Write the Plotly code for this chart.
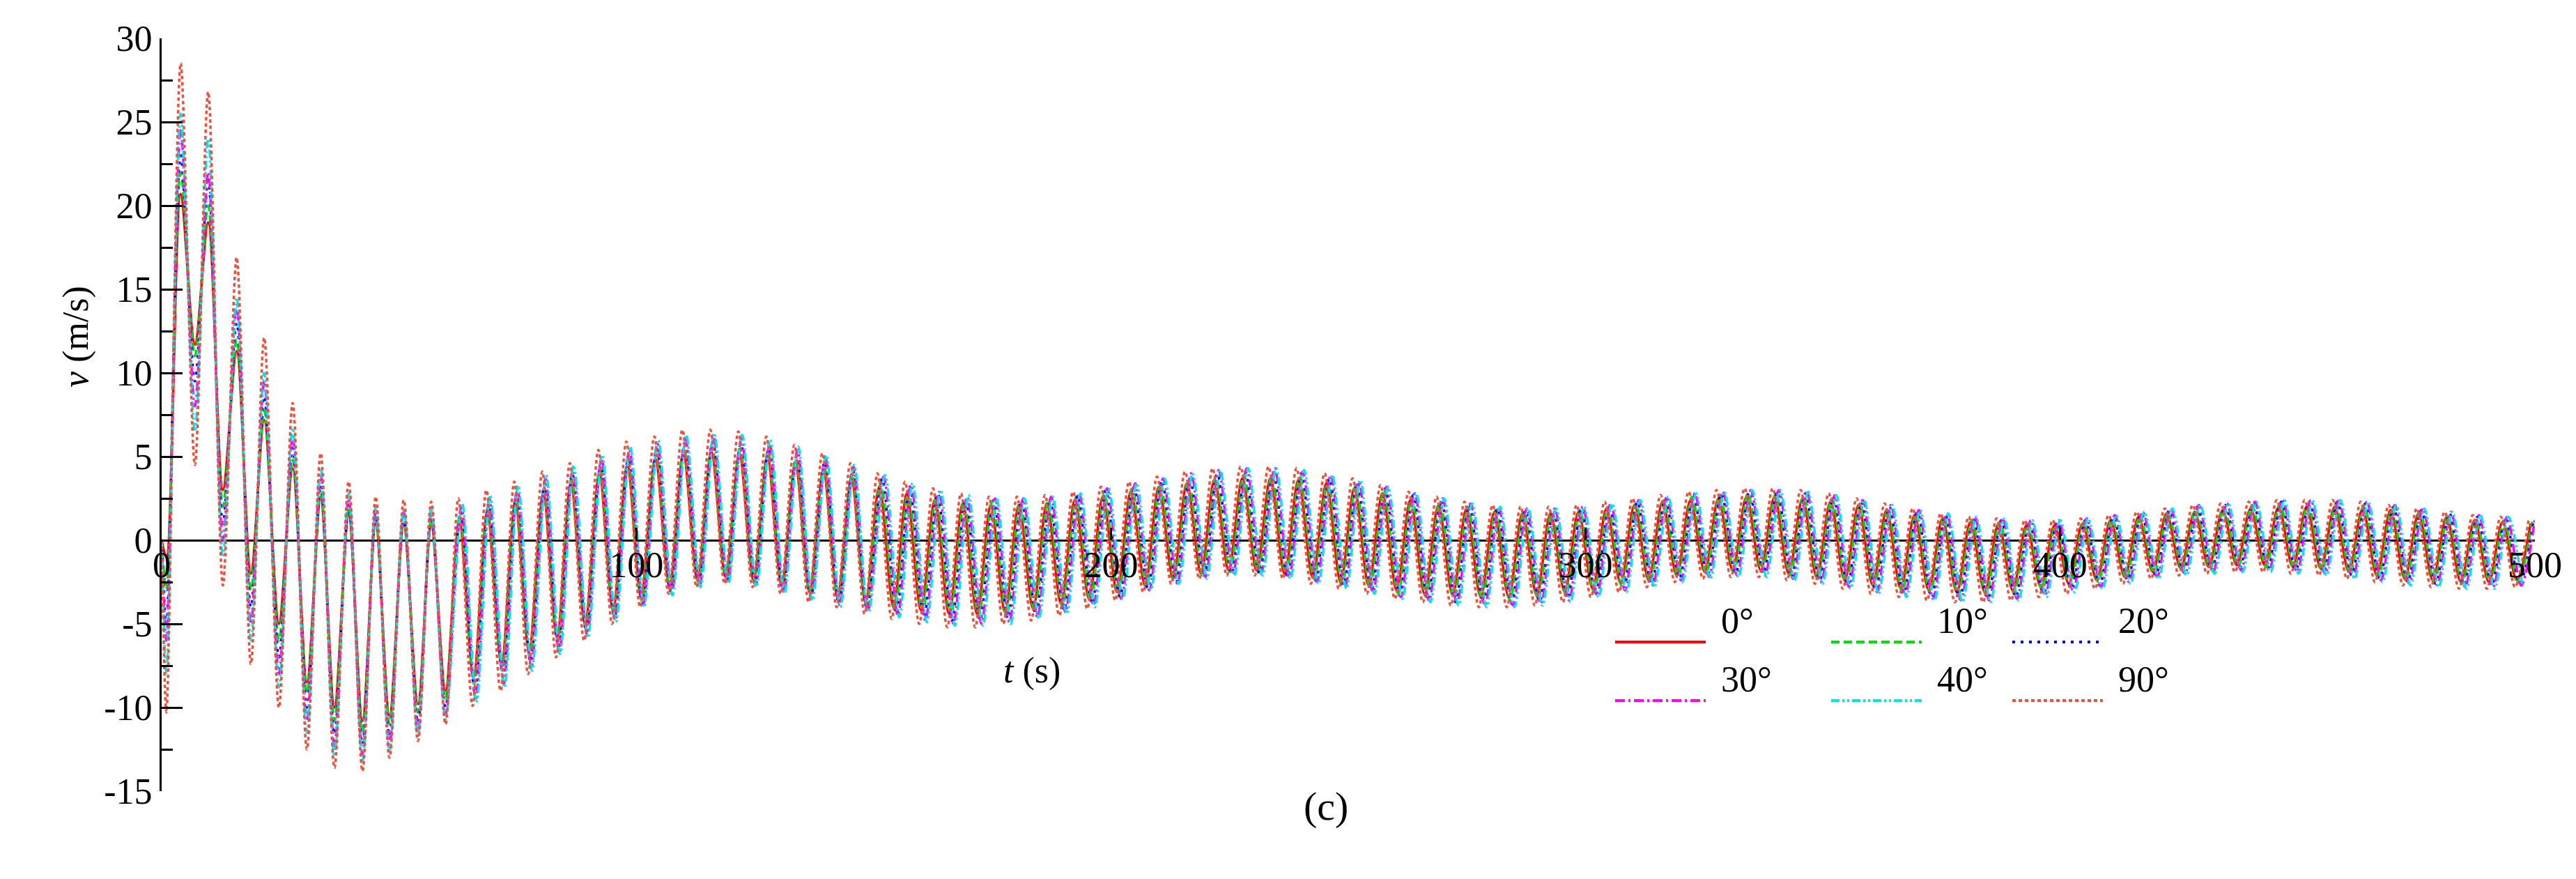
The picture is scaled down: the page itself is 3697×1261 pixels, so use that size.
import plotly.graph_objects as go

# ---------------- data ----------------
SERIES = ["0°", "10°", "20°", "30°", "40°", "90°"]

PEAK_T = [4.0, 9.8, 15.8, 21.6, 27.6, 33.5, 39.4, 45.1, 51.0, 56.8, 62.7, 68.6, 74.5, 80.4, 86.2,
          92.2, 98.1, 104.0, 109.9, 115.8, 121.7, 127.6, 133.5, 139.4, 145.3, 151.2, 157.0, 162.9,
          168.8, 174.7, 180.6, 186.5, 192.4, 198.3, 204.2, 210.1, 216.0, 221.8, 227.7, 233.6, 239.5,
          245.4, 251.3, 257.2, 263.1, 269.0, 274.9, 280.8, 286.7, 292.6, 298.5, 304.4, 310.3, 316.2,
          322.1, 328.0, 333.9, 339.8, 345.7, 351.6, 357.5, 363.4, 369.3, 375.2, 381.1, 387.0, 392.9,
          398.8, 404.7, 410.6, 416.5, 422.4, 428.3, 434.2, 440.1, 446.0, 451.9, 457.8, 463.7, 469.6,
          475.5, 481.4, 487.3, 493.2, 499.1]
TROUGH_T = [7.0, 12.9, 18.8, 24.7, 30.6, 36.4, 42.3, 48.0, 54.0, 59.8, 65.7, 71.6, 77.4, 83.3, 89.2,
            95.1, 101.0, 107.0, 112.9, 118.8, 124.7, 130.6, 136.5, 142.4, 148.3, 154.2, 160.0, 165.9,
            171.8, 177.7, 183.6, 189.5, 195.4, 201.3, 207.2, 213.1, 219.0, 224.8, 230.7, 236.6, 242.5,
            248.4, 254.3, 260.2, 266.1, 272.0, 277.9, 283.8, 289.7, 295.6, 301.5, 307.4, 313.3, 319.2,
            325.1, 331.0, 336.9, 342.8, 348.7, 354.6, 360.5, 366.4, 372.3, 378.2, 384.1, 390.0, 395.9,
            401.8, 407.7, 413.6, 419.5, 425.4, 431.3, 437.2, 443.1, 449.0, 454.9, 460.8, 466.7, 472.6,
            478.5, 484.4, 490.3, 496.2]

START_DIP = [-1.0, -3.0, -5.0, -6.0, -8.0, -10.3]
# phase lag of each series, in seconds, before t = 60 s and after t = 150 s
LAG_EARLY = [0.0, 0.0, 0.0, 0.0, 0.0, 0.0]
LAG_MID = [0.0, 0.15, 0.3, 0.45, 0.6, -0.2]
LAG_LATE = [0.0, 0.3, 0.6, 0.9, 1.2, -0.4]

PEAKS = {
    "0°": [20.7, 19.0, 11.3, 7.2, 4.3, 2.5, 1.5, 1.0, 0.9, 0.9, 1.2, 1.7, 2.3, 2.8, 3.4, 4.0, 4.5, 4.9, 5.2, 5.3, 5.2, 5.0, 4.6, 4.2, 3.7, 3.2, 2.8, 2.4, 2.2, 2.1, 2.1, 2.2, 2.4, 2.6, 2.9, 3.2, 3.4, 3.6, 3.7, 3.7, 3.6, 3.4, 3.1, 2.8, 2.4, 2.1, 1.9, 1.7, 1.6, 1.6, 1.7, 1.9, 2.1, 2.3, 2.4, 2.5, 2.6, 2.6, 2.5, 2.3, 2.1, 1.8, 1.5, 1.3, 1.1, 1.0, 0.9, 0.9, 1.0, 1.2, 1.4, 1.6, 1.7, 1.8, 1.9, 2.0, 2.0, 2.0, 1.9, 1.8, 1.6, 1.4, 1.2, 1.1, 1.0],
    "10°": [22.0, 20.0, 12.0, 7.8, 4.8, 2.9, 1.8, 1.3, 1.2, 1.2, 1.5, 2.0, 2.6, 3.1, 3.7, 4.3, 4.8, 5.2, 5.5, 5.6, 5.5, 5.3, 4.9, 4.5, 4.0, 3.5, 3.0, 2.6, 2.4, 2.3, 2.3, 2.4, 2.6, 2.8, 3.1, 3.4, 3.6, 3.8, 3.9, 3.9, 3.8, 3.6, 3.3, 3.0, 2.6, 2.3, 2.0, 1.8, 1.7, 1.7, 1.8, 2.0, 2.2, 2.4, 2.6, 2.7, 2.8, 2.8, 2.7, 2.5, 2.2, 1.9, 1.6, 1.4, 1.2, 1.1, 1.0, 1.0, 1.1, 1.3, 1.5, 1.7, 1.9, 2.0, 2.1, 2.2, 2.2, 2.2, 2.1, 1.9, 1.7, 1.5, 1.3, 1.2, 1.1],
    "20°": [23.0, 21.5, 13.0, 8.6, 5.5, 3.3, 2.1, 1.5, 1.4, 1.4, 1.7, 2.2, 2.8, 3.4, 4.0, 4.6, 5.1, 5.5, 5.8, 5.9, 5.8, 5.5, 5.1, 4.7, 4.2, 3.7, 3.2, 2.8, 2.5, 2.4, 2.4, 2.5, 2.7, 3.0, 3.3, 3.6, 3.8, 4.0, 4.1, 4.1, 4.0, 3.7, 3.4, 3.1, 2.7, 2.4, 2.1, 1.9, 1.8, 1.8, 1.9, 2.1, 2.3, 2.5, 2.7, 2.8, 2.9, 2.9, 2.8, 2.6, 2.3, 2.0, 1.7, 1.5, 1.3, 1.2, 1.1, 1.1, 1.2, 1.4, 1.6, 1.8, 2.0, 2.1, 2.2, 2.3, 2.3, 2.3, 2.2, 2.0, 1.8, 1.6, 1.4, 1.3, 1.2],
    "30°": [24.5, 22.0, 14.0, 9.5, 6.2, 3.9, 2.5, 1.8, 1.7, 1.7, 2.0, 2.5, 3.1, 3.7, 4.3, 4.9, 5.4, 5.8, 6.1, 6.2, 6.1, 5.8, 5.4, 4.9, 4.4, 3.8, 3.3, 2.9, 2.6, 2.5, 2.5, 2.6, 2.8, 3.1, 3.4, 3.7, 4.0, 4.2, 4.3, 4.3, 4.1, 3.9, 3.5, 3.2, 2.8, 2.5, 2.2, 2.0, 1.9, 1.9, 2.0, 2.2, 2.4, 2.6, 2.8, 2.9, 3.0, 3.0, 2.9, 2.7, 2.4, 2.1, 1.8, 1.6, 1.4, 1.3, 1.2, 1.2, 1.3, 1.5, 1.7, 1.9, 2.1, 2.2, 2.3, 2.4, 2.4, 2.4, 2.3, 2.1, 1.9, 1.7, 1.5, 1.4, 1.3],
    "40°": [25.5, 24.0, 14.5, 10.0, 6.7, 4.3, 2.8, 2.0, 1.9, 1.9, 2.2, 2.7, 3.3, 3.9, 4.5, 5.1, 5.6, 6.0, 6.3, 6.4, 6.3, 6.0, 5.6, 5.1, 4.5, 3.9, 3.4, 3.0, 2.7, 2.5, 2.5, 2.6, 2.8, 3.1, 3.4, 3.7, 4.0, 4.2, 4.3, 4.3, 4.2, 3.9, 3.6, 3.2, 2.8, 2.5, 2.2, 2.0, 1.9, 1.9, 2.0, 2.2, 2.4, 2.6, 2.8, 2.9, 3.0, 3.0, 2.9, 2.7, 2.4, 2.1, 1.8, 1.6, 1.4, 1.3, 1.2, 1.2, 1.3, 1.5, 1.7, 1.9, 2.1, 2.2, 2.3, 2.4, 2.4, 2.4, 2.3, 2.1, 1.9, 1.7, 1.5, 1.4, 1.3],
    "90°": [28.5, 26.8, 16.9, 12.1, 8.2, 5.2, 3.5, 2.6, 2.4, 2.3, 2.5, 3.0, 3.5, 4.1, 4.6, 5.4, 5.9, 6.2, 6.6, 6.6, 6.5, 6.2, 5.7, 5.2, 4.6, 4.0, 3.5, 3.1, 2.8, 2.6, 2.6, 2.7, 2.9, 3.2, 3.5, 3.8, 4.1, 4.3, 4.4, 4.4, 4.3, 4.0, 3.7, 3.3, 2.9, 2.6, 2.3, 2.1, 2.0, 2.0, 2.1, 2.3, 2.5, 2.7, 2.9, 3.0, 3.1, 3.1, 3.0, 2.8, 2.5, 2.2, 1.9, 1.6, 1.4, 1.3, 1.2, 1.2, 1.3, 1.5, 1.7, 1.9, 2.1, 2.2, 2.3, 2.4, 2.4, 2.4, 2.3, 2.1, 1.9, 1.7, 1.5, 1.4, 1.3],
}
TROUGHS = {
    "0°": [11.7, 3.0, -2.0, -5.0, -8.5, -10.0, -10.8, -10.5, -9.8, -9.0, -8.2, -7.4, -6.6, -5.8, -5.0, -4.2, -3.4, -2.8, -2.4, -2.2, -2.4, -2.7, -3.1, -3.4, -3.7, -4.0, -4.2, -4.4, -4.4, -4.3, -4.1, -3.8, -3.5, -3.1, -2.7, -2.3, -2.0, -1.8, -1.8, -2.0, -2.2, -2.5, -2.7, -3.0, -3.2, -3.3, -3.4, -3.4, -3.3, -3.1, -2.9, -2.6, -2.4, -2.1, -1.9, -1.8, -1.8, -2.0, -2.2, -2.4, -2.7, -2.9, -3.0, -3.1, -3.1, -3.0, -2.8, -2.6, -2.4, -2.2, -1.9, -1.7, -1.6, -1.5, -1.5, -1.6, -1.7, -1.9, -2.1, -2.3, -2.4, -2.5, -2.5, -2.4],
    "10°": [11.0, 2.0, -3.0, -6.0, -9.2, -10.8, -11.5, -11.0, -10.3, -9.5, -8.6, -7.8, -7.0, -6.1, -5.2, -4.4, -3.6, -3.0, -2.5, -2.3, -2.5, -2.8, -3.3, -3.6, -3.9, -4.2, -4.4, -4.6, -4.6, -4.5, -4.3, -4.0, -3.7, -3.3, -2.8, -2.4, -2.1, -1.9, -1.9, -2.1, -2.3, -2.6, -2.9, -3.2, -3.4, -3.5, -3.6, -3.6, -3.5, -3.3, -3.1, -2.8, -2.5, -2.2, -2.0, -1.9, -1.9, -2.1, -2.3, -2.6, -2.8, -3.1, -3.2, -3.3, -3.3, -3.2, -3.0, -2.8, -2.5, -2.3, -2.0, -1.8, -1.7, -1.6, -1.6, -1.7, -1.8, -2.0, -2.2, -2.4, -2.5, -2.6, -2.6, -2.5],
    "20°": [9.5, 1.0, -4.0, -7.0, -10.0, -11.6, -12.2, -11.7, -10.9, -10.0, -9.1, -8.2, -7.3, -6.4, -5.5, -4.6, -3.8, -3.1, -2.6, -2.4, -2.6, -3.0, -3.4, -3.8, -4.1, -4.4, -4.6, -4.8, -4.8, -4.7, -4.5, -4.2, -3.8, -3.4, -2.9, -2.5, -2.2, -2.0, -2.0, -2.2, -2.4, -2.7, -3.0, -3.3, -3.5, -3.7, -3.8, -3.8, -3.7, -3.5, -3.2, -2.9, -2.6, -2.3, -2.1, -2.0, -2.0, -2.2, -2.4, -2.7, -3.0, -3.2, -3.4, -3.5, -3.5, -3.4, -3.2, -2.9, -2.7, -2.4, -2.1, -1.9, -1.8, -1.7, -1.7, -1.8, -1.9, -2.1, -2.3, -2.5, -2.6, -2.7, -2.7, -2.6],
    "30°": [8.0, 0.0, -5.0, -8.0, -10.8, -12.3, -12.8, -12.2, -11.4, -10.4, -9.5, -8.6, -7.6, -6.7, -5.7, -4.8, -3.9, -3.2, -2.7, -2.5, -2.7, -3.1, -3.5, -3.9, -4.2, -4.5, -4.8, -5.0, -5.0, -4.9, -4.6, -4.3, -3.9, -3.5, -3.0, -2.6, -2.2, -2.0, -2.0, -2.2, -2.5, -2.8, -3.1, -3.4, -3.6, -3.8, -3.9, -3.9, -3.8, -3.6, -3.3, -3.0, -2.7, -2.4, -2.2, -2.1, -2.1, -2.3, -2.5, -2.8, -3.1, -3.3, -3.5, -3.6, -3.6, -3.5, -3.3, -3.0, -2.8, -2.5, -2.2, -2.0, -1.9, -1.8, -1.8, -1.9, -2.0, -2.2, -2.4, -2.6, -2.7, -2.8, -2.8, -2.7],
    "40°": [6.5, -1.0, -6.0, -8.8, -11.5, -12.9, -13.2, -12.6, -11.7, -10.7, -9.7, -8.8, -7.8, -6.8, -5.8, -4.9, -4.0, -3.3, -2.8, -2.6, -2.8, -3.2, -3.6, -4.0, -4.3, -4.6, -4.9, -5.1, -5.1, -5.0, -4.7, -4.4, -4.0, -3.5, -3.0, -2.6, -2.3, -2.1, -2.1, -2.3, -2.6, -2.9, -3.2, -3.5, -3.7, -3.9, -4.0, -4.0, -3.9, -3.7, -3.4, -3.1, -2.8, -2.5, -2.3, -2.2, -2.2, -2.4, -2.6, -2.9, -3.2, -3.4, -3.6, -3.7, -3.7, -3.6, -3.4, -3.1, -2.9, -2.6, -2.3, -2.1, -2.0, -1.9, -1.9, -2.0, -2.1, -2.3, -2.5, -2.7, -2.8, -2.9, -2.9, -2.8],
    "90°": [4.5, -2.7, -7.4, -10.0, -12.5, -13.6, -13.8, -13.0, -12.0, -11.0, -9.9, -9.0, -8.0, -7.0, -6.0, -5.0, -4.0, -3.2, -2.8, -2.6, -2.8, -3.2, -3.7, -4.0, -4.4, -4.7, -5.0, -5.2, -5.2, -5.0, -4.8, -4.5, -4.1, -3.6, -3.1, -2.6, -2.3, -2.1, -2.1, -2.3, -2.6, -2.9, -3.2, -3.5, -3.7, -3.9, -4.0, -4.0, -3.9, -3.7, -3.4, -3.1, -2.8, -2.5, -2.3, -2.2, -2.2, -2.4, -2.6, -2.9, -3.2, -3.4, -3.6, -3.7, -3.7, -3.6, -3.4, -3.2, -2.9, -2.6, -2.3, -2.1, -2.0, -1.9, -1.9, -2.0, -2.1, -2.3, -2.5, -2.7, -2.8, -2.9, -2.9, -2.8],
}

Y_TICKS = [-15, -10, -5, 0, 5, 10, 15, 20, 25, 30]
Y_TICK_TEXT = ["-15", "-10", "-5", "0", "5", "10", "15", "20", "25", "30"]
X_TICKS = [0, 100, 200, 300, 400, 500]

COLORS = ["#ff0000", "#00e000", "#0000ff", "#ff00ff", "#00e5ee", "#f0503a"]
DASHES = ["solid", "12px,6px", "4px,8px", "14px,5px,3px,5px", "12px,4px,3px,4px,3px,4px", "5px,4px"]

FONT = "Liberation Serif"


def lag(i, t):
    if t < 60:
        return LAG_EARLY[i]
    if t < 150:
        return LAG_MID[i]
    return LAG_LATE[i]


fig = go.Figure()
for i, name in enumerate(SERIES):
    pk, tr = PEAKS[name], TROUGHS[name]
    xs, ys = [0.0, 1.0], [0.0, START_DIP[i]]
    for k in range(len(PEAK_T)):
        if k < len(pk):
            xs.append(PEAK_T[k] + lag(i, PEAK_T[k])); ys.append(pk[k])
        if k < len(TROUGH_T) and k < len(tr):
            xs.append(TROUGH_T[k] + lag(i, TROUGH_T[k])); ys.append(tr[k])
    pts = [(x, y) for x, y in zip(xs, ys) if x <= 500]
    fig.add_trace(go.Scatter(x=[p[0] for p in pts], y=[p[1] for p in pts], mode="lines", name=name,
                             line=dict(color=COLORS[i], width=3.5, dash=DASHES[i], shape="spline", smoothing=0.9)))

W, H = 3697, 1261
L, R, T, B = 224, 67, 47, 134
PW, PH = W - L - R, H - T - B
px = lambda x: (x - L) / PW
py = lambda y: 1 - (y - T) / PH

fig.update_layout(
    width=W, height=H, margin=dict(l=L, r=R, t=T, b=B),
    paper_bgcolor="white", plot_bgcolor="white", showlegend=False,
    font=dict(family=FONT, size=52, color="black"),
    xaxis=dict(range=[0, 500], tickvals=X_TICKS, anchor="free", position=1/3,
               showline=False, showgrid=False, zeroline=False, ticks="inside", ticklen=18, tickwidth=3,
               tickcolor="black", tickfont=dict(family=FONT, size=52)),
    yaxis=dict(range=[-15, 30], tickvals=Y_TICKS, ticktext=Y_TICK_TEXT, showline=True, linecolor="black",
               linewidth=3, showgrid=False, zeroline=True, zerolinecolor="black", zerolinewidth=3,
               ticks="inside", ticklen=30, tickwidth=3, tickcolor="black",
               minor=dict(tickvals=[-12.5, -7.5, -2.5, 2.5, 7.5, 12.5, 17.5, 22.5, 27.5], ticks="inside",
                          ticklen=16, tickwidth=3, tickcolor="black"),
               tickfont=dict(family=FONT, size=52)),
)

ann = [
    dict(text="<i>v</i> (m/s)", x=70, y=400, textangle=-90),
    dict(text="<i>t</i> (s)", x=1473, y=985),
    dict(text="(c)", x=1895, y=1183, size=58),
]
for a in ann:
    fig.add_annotation(text=a["text"], x=px(a["x"]), y=py(a["y"]), xref="paper", yref="paper", showarrow=False,
                       textangle=a.get("textangle", 0), font=dict(family=FONT, size=a.get("size", 52)))

# legend drawn manually (2 rows x 3 columns)
col_x = [2310, 2620, 2880]
row_y = [913, 997]
for i, name in enumerate(SERIES):
    r, c = divmod(i, 3)
    x0 = col_x[c]
    fig.add_shape(type="line", xref="paper", yref="paper", x0=px(x0), x1=px(x0 + 130), y0=py(row_y[r]),
                  y1=py(row_y[r]), line=dict(color=COLORS[i], width=4, dash=DASHES[i]))
    fig.add_annotation(text=name, x=px(x0 + 150), y=py(row_y[r]), xref="paper", yref="paper",
                       xanchor="left", showarrow=False, font=dict(family=FONT, size=52))

fig.write_html("out.html")
